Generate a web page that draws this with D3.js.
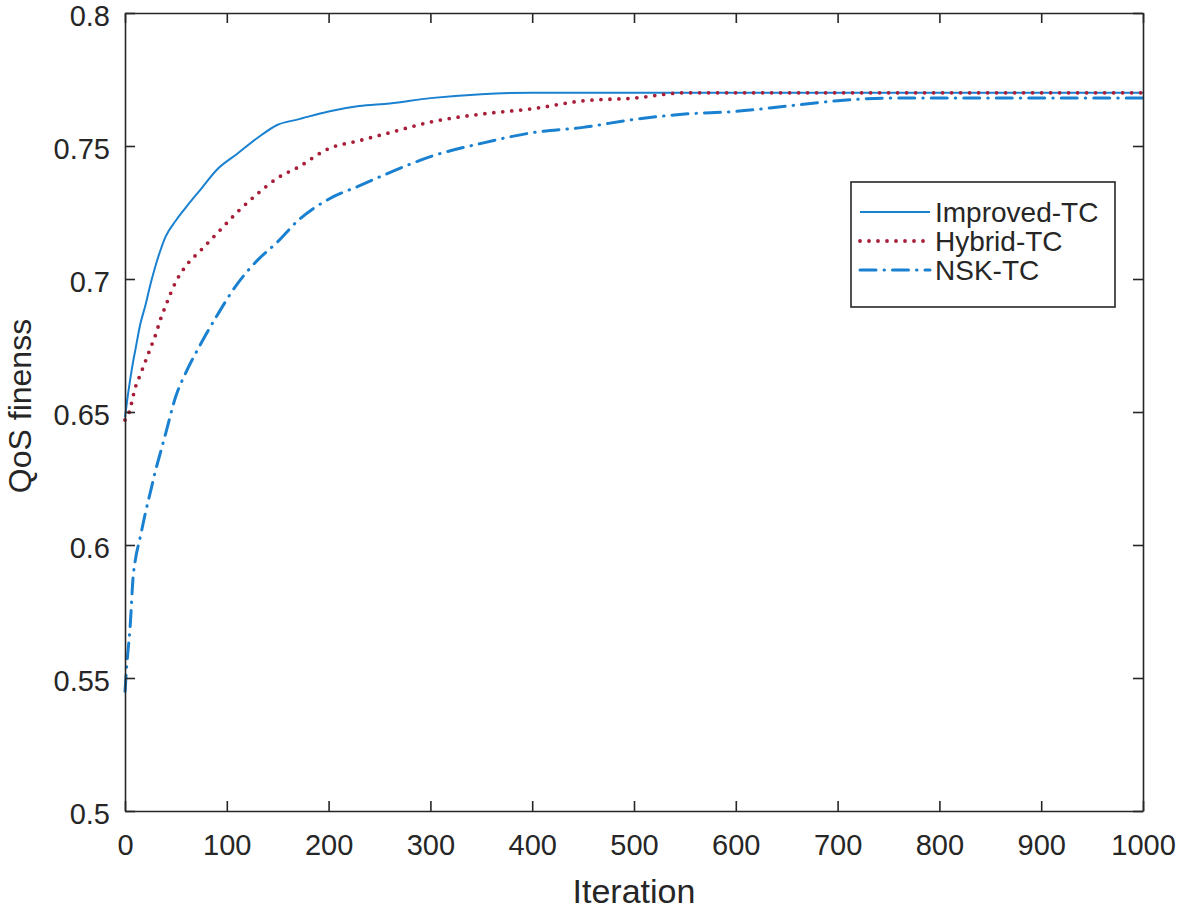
<!DOCTYPE html>
<html>
<head>
<meta charset="utf-8">
<script src="https://cdn.jsdelivr.net/npm/d3@7"></script>
<style>
  body { margin: 0; background: #fff; }
  text { font-family: "Liberation Sans", Arial, Helvetica, sans-serif; fill: #262626; }
</style>
</head>
<body>
<script>
// iteration samples shared by all three curves
var iterations = [0, 2, 5, 8, 10, 15, 20, 25, 30, 35, 40, 50, 60, 75, 90, 110, 130, 150, 170, 200, 230, 260,
                  300, 350, 400, 450, 500, 550, 600, 650, 700, 750, 800, 900, 1000];

var improvedTC = [0.648, 0.654, 0.662, 0.669, 0.673, 0.683, 0.690, 0.698, 0.705, 0.711, 0.716, 0.722, 0.727,
                  0.734, 0.741, 0.747, 0.753, 0.758, 0.760, 0.763, 0.765, 0.766, 0.768, 0.7695, 0.770,
                  0.770, 0.770, 0.770, 0.770, 0.770, 0.770, 0.770, 0.770, 0.770, 0.770];
var hybridTC = [0.647, 0.648, 0.651, 0.656, 0.659, 0.664, 0.669, 0.674, 0.679, 0.685, 0.690, 0.699, 0.705,
                0.711, 0.717, 0.725, 0.732, 0.738, 0.742, 0.749, 0.752, 0.755, 0.759, 0.762, 0.764,
                0.767, 0.768, 0.770, 0.770, 0.770, 0.770, 0.770, 0.770, 0.770, 0.770];
var nskTC = [0.545, 0.556, 0.569, 0.588, 0.594, 0.603, 0.612, 0.620, 0.628, 0.635, 0.642, 0.656, 0.665,
             0.676, 0.686, 0.698, 0.707, 0.714, 0.722, 0.730, 0.735, 0.740, 0.746, 0.751, 0.755,
             0.757, 0.760, 0.762, 0.763, 0.765, 0.767, 0.768, 0.768, 0.768, 0.768];

var seriesNames = ['Improved-TC', 'Hybrid-TC', 'NSK-TC'];
var xTicks = [0, 100, 200, 300, 400, 500, 600, 700, 800, 900, 1000];
var yTicks = [0.5, 0.55, 0.6, 0.65, 0.7, 0.75, 0.8];

var width = 1180, height = 910;
var margin = {left: 125, right: 37, top: 13, bottom: 99};
var axisColor = '#262626';

var svg = d3.select('body').append('svg')
    .attr('width', width)
    .attr('height', height);

var x = d3.scaleLinear().domain([0, 1000]).range([margin.left, width - margin.right]);
var y = d3.scaleLinear().domain([0.5, 0.8]).range([height - margin.bottom, margin.top]);

// 曲线样式
var styles = [
  {color: '#1a80d0', width: 2, dash: null, cap: 'butt'},
  {color: '#a81e38', width: 3.8, dash: '0,9', cap: 'round'},
  {color: '#1a80d0', width: 3, dash: '16,8,0.5,8', cap: 'round'}
];
var values = [improvedTC, hybridTC, nskTC];

var line = d3.line()
    .curve(d3.curveMonotoneX)
    .x(function(d) { return x(d[0]); })
    .y(function(d) { return y(d[1]); });

var lines = svg.append('g').attr('class', 'lines');
values.forEach(function(vals, i) {
  var pts = iterations.map(function(it, k) { return [it, vals[k]]; });
  var s = styles[i];
  lines.append('path')
    .datum(pts)
    .attr('d', line)
    .attr('fill', 'none')
    .attr('stroke', s.color)
    .attr('stroke-width', s.width)
    .attr('stroke-linecap', s.cap)
    .attr('stroke-linejoin', 'round')
    .attr('stroke-dasharray', s.dash);
});

// axes, ticks pointing inward on every side
function styleAxis(g) {
  g.selectAll('.domain').attr('stroke', axisColor).attr('stroke-width', 1.6);
  g.selectAll('.tick line').attr('stroke', axisColor).attr('stroke-width', 1.6);
  g.selectAll('text').attr('fill', axisColor).attr('font-size', 29)
    .attr('font-family', '"Liberation Sans", Arial, sans-serif');
}

svg.append('g')
  .attr('transform', 'translate(0,' + (height - margin.bottom) + ')')
  .call(d3.axisBottom(x).tickValues(xTicks).tickFormat(d3.format('d'))
        .tickSizeInner(-10).tickSizeOuter(0).tickPadding(23))
  .call(styleAxis);

svg.append('g')
  .attr('transform', 'translate(0,' + margin.top + ')')
  .call(d3.axisTop(x).tickValues(xTicks).tickFormat('')
        .tickSizeInner(-10).tickSizeOuter(0))
  .call(styleAxis);

svg.append('g')
  .attr('transform', 'translate(' + margin.left + ',0)')
  .call(d3.axisLeft(y).tickValues(yTicks).tickFormat(d3.format('~g'))
        .tickSizeInner(-10).tickSizeOuter(0).tickPadding(15))
  .call(styleAxis)
  .selectAll('text').attr('dy', '0.42em');

svg.append('g')
  .attr('transform', 'translate(' + (width - margin.right) + ',0)')
  .call(d3.axisRight(y).tickValues(yTicks).tickFormat('')
        .tickSizeInner(-10).tickSizeOuter(0))
  .call(styleAxis);

// axis labels
svg.append('text')
  .attr('x', (margin.left + width - margin.right) / 2)
  .attr('y', 903)
  .attr('text-anchor', 'middle')
  .attr('font-size', 34)
  .text('Iteration');

svg.append('text')
  .attr('transform', 'translate(31,' + ((margin.top + height - margin.bottom) / 2 - 6) + ') rotate(-90)')
  .attr('text-anchor', 'middle')
  .attr('font-size', 32)
  .text('QoS finenss');

// legend
var legend = svg.append('g').attr('class', 'legend');
legend.append('rect')
  .attr('x', 851).attr('y', 182)
  .attr('width', 264).attr('height', 125)
  .attr('fill', '#fff')
  .attr('stroke', axisColor)
  .attr('stroke-width', 1.6);

seriesNames.forEach(function(name, i) {
  var ly = 212 + i * 29;
  var s = styles[i];
  legend.append('line')
    .attr('x1', 860).attr('x2', 930)
    .attr('y1', ly).attr('y2', ly)
    .attr('stroke', s.color)
    .attr('stroke-width', s.width)
    .attr('stroke-linecap', s.cap)
    .attr('stroke-dasharray', s.dash);
  legend.append('text')
    .attr('x', 935)
    .attr('y', ly + 10)
    .attr('font-size', 28)
    .text(name);
});
</script>
</body>
</html>
